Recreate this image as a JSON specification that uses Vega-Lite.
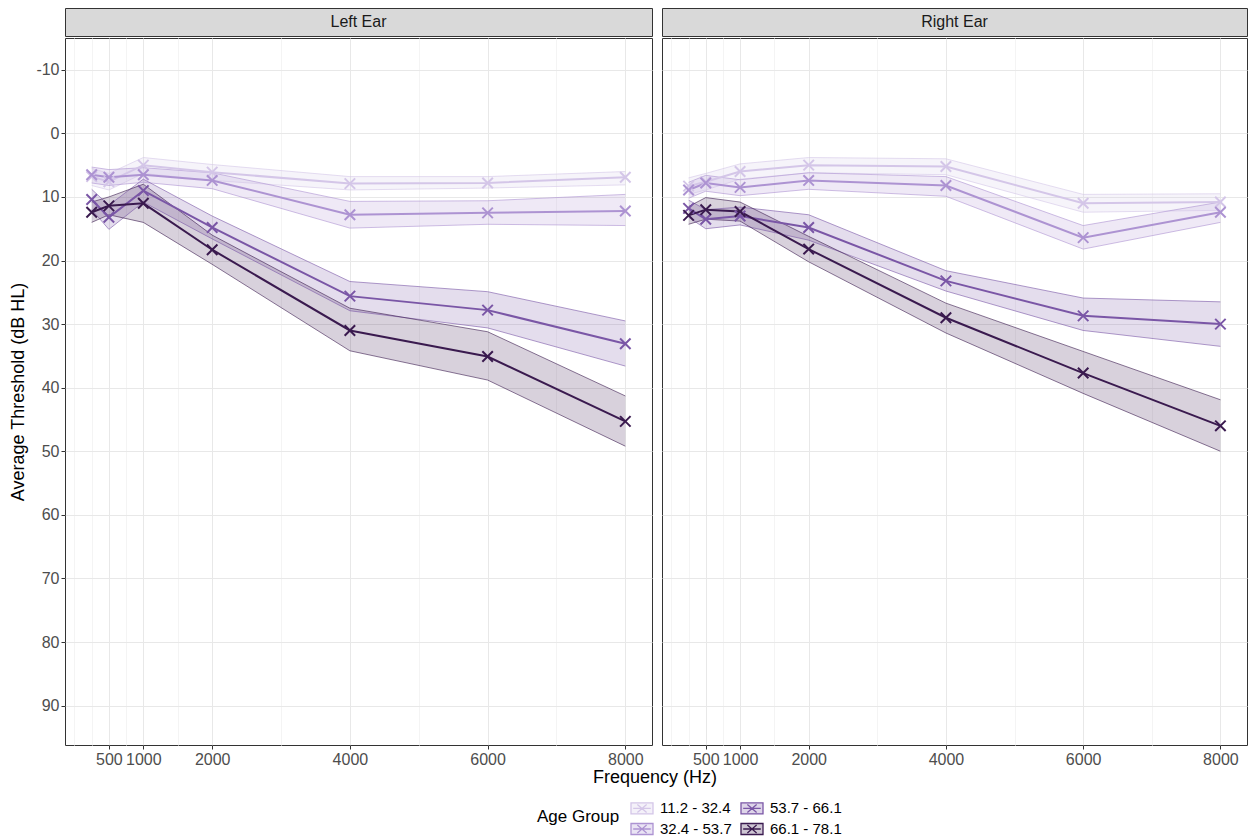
{
  "$schema": "https://vega.github.io/schema/vega-lite/v6.json",
  "background": "white",
  "padding": {"left": 9, "top": 7, "right": 5, "bottom": 5},
  "spacing": 0,
  "config": {
    "font": "Liberation Sans",
    "view": {"stroke": "#333333", "strokeWidth": 1},
    "axis": {
      "labelFont": "Liberation Sans", "labelFontSize": 16, "labelColor": "#4d4d4d",
      "titleFont": "Liberation Sans", "titleFontSize": 18, "titleFontWeight": "normal", "titleColor": "#000000",
      "domain": false, "tickSize": 4, "gridWidth": 1, "labelOverlap": false, "labelPadding": 2
    },
    "legend": {
      "labelFont": "Liberation Sans", "labelFontSize": 15, "labelColor": "#000000",
      "titleFont": "Liberation Sans", "titleFontSize": 17, "titleFontWeight": "normal", "titleColor": "#000000"
    }
  },
  "datasets": {
    "audio": [
      {"ear": "Left Ear", "group": "11.2 - 32.4", "freq": 250, "value": 6.8, "lo": 5.5, "hi": 8.2},
      {"ear": "Left Ear", "group": "11.2 - 32.4", "freq": 500, "value": 7.6, "lo": 6.3, "hi": 8.9},
      {"ear": "Left Ear", "group": "11.2 - 32.4", "freq": 1000, "value": 5.0, "lo": 3.8, "hi": 6.3},
      {"ear": "Left Ear", "group": "11.2 - 32.4", "freq": 2000, "value": 6.1, "lo": 4.9, "hi": 7.4},
      {"ear": "Left Ear", "group": "11.2 - 32.4", "freq": 4000, "value": 7.9, "lo": 6.8, "hi": 8.9},
      {"ear": "Left Ear", "group": "11.2 - 32.4", "freq": 6000, "value": 7.8, "lo": 6.8, "hi": 8.6},
      {"ear": "Left Ear", "group": "11.2 - 32.4", "freq": 8000, "value": 6.9, "lo": 6.0, "hi": 8.1},
      {"ear": "Left Ear", "group": "32.4 - 53.7", "freq": 250, "value": 6.5, "lo": 5.3, "hi": 7.8},
      {"ear": "Left Ear", "group": "32.4 - 53.7", "freq": 500, "value": 6.9, "lo": 5.7, "hi": 8.2},
      {"ear": "Left Ear", "group": "32.4 - 53.7", "freq": 1000, "value": 6.5, "lo": 5.4, "hi": 7.7},
      {"ear": "Left Ear", "group": "32.4 - 53.7", "freq": 2000, "value": 7.4, "lo": 6.2, "hi": 8.7},
      {"ear": "Left Ear", "group": "32.4 - 53.7", "freq": 4000, "value": 12.8, "lo": 10.7, "hi": 14.9},
      {"ear": "Left Ear", "group": "32.4 - 53.7", "freq": 6000, "value": 12.5, "lo": 10.6, "hi": 14.3},
      {"ear": "Left Ear", "group": "32.4 - 53.7", "freq": 8000, "value": 12.2, "lo": 9.6, "hi": 14.5},
      {"ear": "Left Ear", "group": "53.7 - 66.1", "freq": 250, "value": 10.4, "lo": 8.8, "hi": 12.0},
      {"ear": "Left Ear", "group": "53.7 - 66.1", "freq": 500, "value": 13.2, "lo": 11.3, "hi": 15.1},
      {"ear": "Left Ear", "group": "53.7 - 66.1", "freq": 1000, "value": 9.0, "lo": 7.2, "hi": 10.8},
      {"ear": "Left Ear", "group": "53.7 - 66.1", "freq": 2000, "value": 14.8, "lo": 13.0, "hi": 16.6},
      {"ear": "Left Ear", "group": "53.7 - 66.1", "freq": 4000, "value": 25.6, "lo": 23.3, "hi": 27.9},
      {"ear": "Left Ear", "group": "53.7 - 66.1", "freq": 6000, "value": 27.8, "lo": 24.9, "hi": 30.6},
      {"ear": "Left Ear", "group": "53.7 - 66.1", "freq": 8000, "value": 33.1, "lo": 29.5, "hi": 36.6},
      {"ear": "Left Ear", "group": "66.1 - 78.1", "freq": 250, "value": 12.4, "lo": 10.8, "hi": 14.0},
      {"ear": "Left Ear", "group": "66.1 - 78.1", "freq": 500, "value": 11.4, "lo": 10.0, "hi": 12.8},
      {"ear": "Left Ear", "group": "66.1 - 78.1", "freq": 1000, "value": 11.0, "lo": 8.0, "hi": 14.0},
      {"ear": "Left Ear", "group": "66.1 - 78.1", "freq": 2000, "value": 18.3, "lo": 16.0, "hi": 20.6},
      {"ear": "Left Ear", "group": "66.1 - 78.1", "freq": 4000, "value": 31.0, "lo": 27.5, "hi": 34.2},
      {"ear": "Left Ear", "group": "66.1 - 78.1", "freq": 6000, "value": 35.1, "lo": 31.2, "hi": 38.8},
      {"ear": "Left Ear", "group": "66.1 - 78.1", "freq": 8000, "value": 45.3, "lo": 41.3, "hi": 49.2},
      {"ear": "Right Ear", "group": "11.2 - 32.4", "freq": 250, "value": 8.3, "lo": 7.0, "hi": 9.6},
      {"ear": "Right Ear", "group": "11.2 - 32.4", "freq": 500, "value": 7.6, "lo": 6.3, "hi": 8.9},
      {"ear": "Right Ear", "group": "11.2 - 32.4", "freq": 1000, "value": 6.0, "lo": 4.8, "hi": 7.2},
      {"ear": "Right Ear", "group": "11.2 - 32.4", "freq": 2000, "value": 5.0, "lo": 3.8, "hi": 6.2},
      {"ear": "Right Ear", "group": "11.2 - 32.4", "freq": 4000, "value": 5.2, "lo": 4.0, "hi": 6.5},
      {"ear": "Right Ear", "group": "11.2 - 32.4", "freq": 6000, "value": 11.0, "lo": 9.6, "hi": 12.4},
      {"ear": "Right Ear", "group": "11.2 - 32.4", "freq": 8000, "value": 10.8, "lo": 9.5, "hi": 12.1},
      {"ear": "Right Ear", "group": "32.4 - 53.7", "freq": 250, "value": 8.9, "lo": 7.7, "hi": 10.2},
      {"ear": "Right Ear", "group": "32.4 - 53.7", "freq": 500, "value": 7.8, "lo": 6.6, "hi": 9.1},
      {"ear": "Right Ear", "group": "32.4 - 53.7", "freq": 1000, "value": 8.5, "lo": 7.3, "hi": 9.8},
      {"ear": "Right Ear", "group": "32.4 - 53.7", "freq": 2000, "value": 7.4, "lo": 6.2, "hi": 8.8},
      {"ear": "Right Ear", "group": "32.4 - 53.7", "freq": 4000, "value": 8.2, "lo": 6.8, "hi": 9.9},
      {"ear": "Right Ear", "group": "32.4 - 53.7", "freq": 6000, "value": 16.4, "lo": 14.5, "hi": 18.2},
      {"ear": "Right Ear", "group": "32.4 - 53.7", "freq": 8000, "value": 12.4, "lo": 10.8, "hi": 14.0},
      {"ear": "Right Ear", "group": "53.7 - 66.1", "freq": 250, "value": 11.8, "lo": 10.5, "hi": 13.2},
      {"ear": "Right Ear", "group": "53.7 - 66.1", "freq": 500, "value": 13.5, "lo": 12.0, "hi": 15.0},
      {"ear": "Right Ear", "group": "53.7 - 66.1", "freq": 1000, "value": 13.0, "lo": 11.6, "hi": 14.4},
      {"ear": "Right Ear", "group": "53.7 - 66.1", "freq": 2000, "value": 14.8, "lo": 12.8, "hi": 16.8},
      {"ear": "Right Ear", "group": "53.7 - 66.1", "freq": 4000, "value": 23.2, "lo": 21.6, "hi": 24.8},
      {"ear": "Right Ear", "group": "53.7 - 66.1", "freq": 6000, "value": 28.7, "lo": 25.9, "hi": 31.0},
      {"ear": "Right Ear", "group": "53.7 - 66.1", "freq": 8000, "value": 30.0, "lo": 26.5, "hi": 33.5},
      {"ear": "Right Ear", "group": "66.1 - 78.1", "freq": 250, "value": 12.9, "lo": 11.5, "hi": 14.3},
      {"ear": "Right Ear", "group": "66.1 - 78.1", "freq": 500, "value": 12.0, "lo": 10.1, "hi": 13.5},
      {"ear": "Right Ear", "group": "66.1 - 78.1", "freq": 1000, "value": 12.3, "lo": 10.8, "hi": 13.8},
      {"ear": "Right Ear", "group": "66.1 - 78.1", "freq": 2000, "value": 18.2, "lo": 16.2, "hi": 20.2},
      {"ear": "Right Ear", "group": "66.1 - 78.1", "freq": 4000, "value": 29.0, "lo": 26.7, "hi": 31.4},
      {"ear": "Right Ear", "group": "66.1 - 78.1", "freq": 6000, "value": 37.7, "lo": 34.3, "hi": 40.9},
      {"ear": "Right Ear", "group": "66.1 - 78.1", "freq": 8000, "value": 46.0, "lo": 41.9, "hi": 50.0}
    ]
  },
  "resolve": {"scale": {"color": "shared"}, "legend": {"color": "shared"}},
  "vconcat": [
    {
      "spacing": 8,
      "resolve": {"scale": {"color": "shared"}, "legend": {"color": "shared"}},
      "hconcat": [
        {
          "spacing": 0,
          "vconcat": [
            {
              "width": 587, "height": 28,
              "data": {"values": [{"ear": "Left Ear"}]},
              "view": {"fill": "#d9d9d9", "stroke": "#333333"},
              "mark": {"type": "text", "fontSize": 16, "color": "#1a1a1a", "font": "Liberation Sans"},
              "encoding": {"text": {"field": "ear"}}
            },
            {
              "width": 587, "height": 707,
              "data": {"name": "audio"},
              "transform": [{"filter": "datum.ear === 'Left Ear'"}],
              "encoding": {
                "x": {
                  "field": "freq", "type": "quantitative",
                  "scale": {"domain": [-137.5, 8387.5], "nice": false, "zero": false},
                  "axis": {
                    "title": null,
                    "values": [0, 250, 500, 750, 1000, 1500, 2000, 3000, 4000, 5000, 6000, 7000, 8000],
                    "format": "d",
                    "labelExpr": "indexof([500,1000,2000,4000,6000,8000], datum.value) >= 0 ? datum.label : ''",
                    "tickColor": {"condition": {"test": "indexof([500,1000,2000,4000,6000,8000], datum.value) >= 0", "value": "#333333"}, "value": "transparent"},
                    "gridColor": {"condition": {"test": "indexof([500,1000,2000,4000,6000,8000], datum.value) >= 0", "value": "#e8e8e8"}, "value": "#f4f4f4"}
                  }
                },
                "color": {
                  "field": "group", "type": "nominal", "title": "Age Group",
                  "scale": {"domain": ["11.2 - 32.4", "53.7 - 66.1", "32.4 - 53.7", "66.1 - 78.1"], "range": ["#d4c6e8", "#7a56a6", "#ad93d2", "#3a1a4f"]},
                  "legend": {
                    "orient": "none", "legendX": 472, "legendY": 788,
                    "direction": "horizontal", "columns": 2, "titleOrient": "left", "titleAnchor": "middle", "titleBaseline": "middle", "titlePadding": 10,
                    "symbolType": "M-1,-0.5L1,-0.5L1,0.5L-1,0.5Z M-0.8,0L0.8,0 M-0.42,-0.36L0.42,0.36 M-0.42,0.36L0.42,-0.36",
                    "symbolSize": 484, "symbolStrokeWidth": 1.3, "symbolOpacity": 1,
                    "rowPadding": 0, "columnPadding": 6, "labelOffset": 6,
                    "encode": {"symbols": {"update": {"fill": {"scale": "color", "field": "value"}, "fillOpacity": {"value": 0.25}}}}
                  }
                }
              },
              "layer": [
                {
                  "mark": {"type": "area", "opacity": 0.2},
                  "encoding": {
                    "y": {
                      "field": "lo", "type": "quantitative",
                      "scale": {"domain": [-15, 96.2], "reverse": true, "nice": false, "zero": false},
                      "axis": {
                        "title": "Average Threshold (dB HL)", "titlePadding": 8,
                        "values": [-10, -5, 0, 5, 10, 15, 20, 25, 30, 35, 40, 45, 50, 55, 60, 65, 70, 75, 80, 85, 90, 95],
                        "labelExpr": "datum.value % 10 === 0 ? replace(datum.label, '\u2212', '-') : ''",
                        "tickColor": {"condition": {"test": "datum.value % 10 === 0", "value": "#333333"}, "value": "transparent"},
                        "gridColor": {"condition": {"test": "datum.value % 10 === 0", "value": "#e8e8e8"}, "value": "#f4f4f4"}
                      }
                    },
                    "y2": {"field": "hi"}
                  }
                },
                {
                  "transform": [{"fold": ["lo", "hi"], "as": ["bound", "bval"]}],
                  "mark": {"type": "line", "strokeWidth": 1, "opacity": 0.6},
                  "encoding": {
                    "y": {"field": "bval", "type": "quantitative"},
                    "detail": {"field": "bound"}
                  }
                },
                {
                  "transform": [{"aggregate": [{"op": "count", "as": "n"}]}],
                  "mark": {"type": "rule", "color": "#a3a3a3", "strokeWidth": 3.5},
                  "encoding": {"y": {"datum": 25}, "color": {"value": "#a3a3a3"}}
                },
                {
                  "mark": {"type": "line", "strokeWidth": 2},
                  "encoding": {"y": {"field": "value", "type": "quantitative"}}
                },
                {
                  "mark": {"type": "point", "shape": "M-1,-1L1,1M-1,1L1,-1", "filled": false, "size": 110, "strokeWidth": 2, "opacity": 1},
                  "encoding": {"y": {"field": "value", "type": "quantitative"}}
                }
              ]
            }
          ]
        },
        {
          "spacing": 0,
          "vconcat": [
            {
              "width": 585, "height": 28,
              "data": {"values": [{"ear": "Right Ear"}]},
              "view": {"fill": "#d9d9d9", "stroke": "#333333"},
              "mark": {"type": "text", "fontSize": 16, "color": "#1a1a1a", "font": "Liberation Sans"},
              "encoding": {"text": {"field": "ear"}}
            },
            {
              "width": 585, "height": 707,
              "data": {"name": "audio"},
              "transform": [{"filter": "datum.ear === 'Right Ear'"}],
              "encoding": {
                "x": {
                  "field": "freq", "type": "quantitative",
                  "scale": {"domain": [-137.5, 8387.5], "nice": false, "zero": false},
                  "axis": {
                    "title": null,
                    "values": [0, 250, 500, 750, 1000, 1500, 2000, 3000, 4000, 5000, 6000, 7000, 8000],
                    "format": "d",
                    "labelExpr": "indexof([500,1000,2000,4000,6000,8000], datum.value) >= 0 ? datum.label : ''",
                    "tickColor": {"condition": {"test": "indexof([500,1000,2000,4000,6000,8000], datum.value) >= 0", "value": "#333333"}, "value": "transparent"},
                    "gridColor": {"condition": {"test": "indexof([500,1000,2000,4000,6000,8000], datum.value) >= 0", "value": "#e8e8e8"}, "value": "#f4f4f4"}
                  }
                },
                "color": {"field": "group", "type": "nominal", "title": "Age Group"}
              },
              "layer": [
                {
                  "mark": {"type": "area", "opacity": 0.2},
                  "encoding": {
                    "y": {
                      "field": "lo", "type": "quantitative",
                      "scale": {"domain": [-15, 96.2], "reverse": true, "nice": false, "zero": false},
                      "axis": {
                        "title": null, "labels": false, "ticks": false, "minExtent": 0, "maxExtent": 0,
                        "values": [-10, -5, 0, 5, 10, 15, 20, 25, 30, 35, 40, 45, 50, 55, 60, 65, 70, 75, 80, 85, 90, 95],
                        "gridColor": {"condition": {"test": "datum.value % 10 === 0", "value": "#e8e8e8"}, "value": "#f4f4f4"}
                      }
                    },
                    "y2": {"field": "hi"}
                  }
                },
                {
                  "transform": [{"fold": ["lo", "hi"], "as": ["bound", "bval"]}],
                  "mark": {"type": "line", "strokeWidth": 1, "opacity": 0.6},
                  "encoding": {
                    "y": {"field": "bval", "type": "quantitative"},
                    "detail": {"field": "bound"}
                  }
                },
                {
                  "transform": [{"aggregate": [{"op": "count", "as": "n"}]}],
                  "mark": {"type": "rule", "color": "#a3a3a3", "strokeWidth": 3.5},
                  "encoding": {"y": {"datum": 25}, "color": {"value": "#a3a3a3"}}
                },
                {
                  "mark": {"type": "line", "strokeWidth": 2},
                  "encoding": {"y": {"field": "value", "type": "quantitative"}}
                },
                {
                  "mark": {"type": "point", "shape": "M-1,-1L1,1M-1,1L1,-1", "filled": false, "size": 110, "strokeWidth": 2, "opacity": 1},
                  "encoding": {"y": {"field": "value", "type": "quantitative"}}
                }
              ]
            }
          ]
        }
      ]
    },
    {
      "width": 1180, "height": 20,
      "data": {"values": [{"t": "Frequency (Hz)"}]},
      "view": {"stroke": null, "fill": null},
      "mark": {"type": "text", "fontSize": 18, "color": "#000000", "font": "Liberation Sans"},
      "encoding": {"text": {"field": "t"}}
    }
  ]
}
